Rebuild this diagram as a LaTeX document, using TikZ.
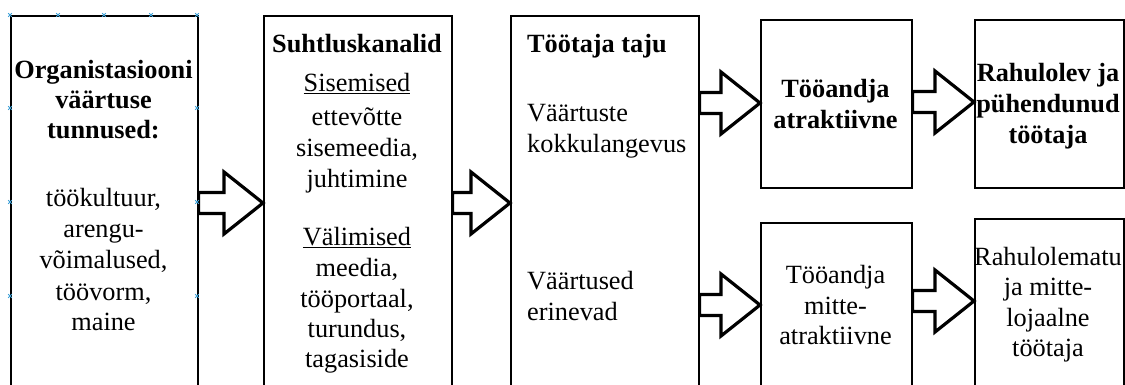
\documentclass[tikz,border=0pt]{standalone}
\usepackage{fontspec}
\setmainfont{Liberation Serif}
\usetikzlibrary{calc}
% stacked lines; the block's baseline is the baseline of its first line
\newcommand{\txtlines}[2][c]{\begin{tabular}[t]{@{}#1@{}}#2\end{tabular}}
% hollow block arrow from the east side of #1 to the west side of #2 at height #3
\newcommand{\fatarrow}[3]{%
  \draw[fatarrowline] let \p1=(#1.east |- 0,#3), \p2=(#2.west |- 0,#3) in
    (\x1,\y1-10.5pt) -- (\x2-39pt,\y1-10.5pt) -- (\x2-39pt,\y1-31pt) -- (\x2,\y1)
    -- (\x2-39pt,\y1+31pt) -- (\x2-39pt,\y1+10.5pt) -- (\x1,\y1+10.5pt) -- cycle;}
\begin{document}
\begin{tikzpicture}[x=1pt,y=-1pt,
  box/.style={draw=black, line width=1.6pt, inner sep=0pt, anchor=north west},
  txt/.style={inner sep=0pt, anchor=base, font=\fontsize{26.3}{31}\selectfont},
  ltxt/.style={txt, anchor=base west},
  fatarrowline/.style={draw=black, line width=3.2pt, line join=miter, fill=white},
  handle/.style={draw={rgb,255:red,60;green,160;blue,215}, line width=0.8pt}
]
\useasboundingbox (0,0) rectangle (1125,385);
\clip (0,0) rectangle (1125,385);

% frames
\node[box, minimum width=187, minimum height=420] (b1) at (10,15) {};
\node[box, minimum width=188, minimum height=420] (b2) at (263,15) {};
\node[box, minimum width=188, minimum height=420] (b3) at (510,15) {};
\node[box, minimum width=151, minimum height=168] (b4) at (760,19) {};
\node[box, minimum width=149, minimum height=168] (b5) at (974,19) {};
\node[box, minimum width=151, minimum height=200] (b6) at (760,222) {};
\node[box, minimum width=149, minimum height=200] (b7) at (974,218) {};

% block arrows
\fatarrow{b1}{b2}{203}
\fatarrow{b2}{b3}{203}
\fatarrow{b3}{b4}{103}
\fatarrow{b3}{b6}{305}
\fatarrow{b4}{b5}{102}
\fatarrow{b6}{b7}{301}

% texts
\node[txt, font=\fontsize{26.3}{30}\selectfont\bfseries] (t1a) at (103.5,79)
  {\txtlines{Organistasiooni\\väärtuse\\tunnused:}};
\node[txt] (t1b) at (103.5,207)
  {\txtlines{töökultuur,\\arengu-\\võimalused,\\töövorm,\\maine}};

\node[txt, font=\fontsize{26.3}{31}\selectfont\bfseries] (t2a) at (357,53) {Suhtluskanalid};
\node[txt] (t2b) at (357,92)
  {\txtlines{\underline{Sisemised}\\[3pt]ettevõtte\\sisemeedia,\\juhtimine}};
\node[txt, font=\fontsize{26.3}{30.5}\selectfont] (t2c) at (357,245)
  {\txtlines{\underline{Välimised}\\[1pt]meedia,\\tööportaal,\\turundus,\\tagasiside}};

\node[ltxt, font=\fontsize{26.3}{31}\selectfont\bfseries] (t3a) at (527,53) {Töötaja taju};
\node[ltxt] (t3b) at (527,122) {\txtlines[l]{Väärtuste\\kokkulangevus}};
\node[ltxt] (t3c) at (527,289) {\txtlines[l]{Väärtused\\erinevad}};

\node[txt, font=\fontsize{26.3}{31}\selectfont\bfseries] (t4) at (835.5,98)
  {\txtlines{Tööandja\\atraktiivne}};
\node[txt, font=\fontsize{26.3}{31}\selectfont\bfseries] (t5) at (1048,82)
  {\txtlines{Rahulolev ja\\pühendunud\\töötaja}};
\node[txt] (t6) at (835.5,283)
  {\txtlines{Tööandja\\mitte-\\atraktiivne}};
\node[txt, font=\fontsize{26.3}{30.5}\selectfont] (t7) at (1048,265)
  {\txtlines{Rahulolematu\\ja mitte-\\lojaalne\\töötaja}};

% selection handles on the first frame
\foreach \hx/\hy in {10/15,58/15,104/15,151/15,197/15,10/108,10/202,10/296,197/108,197/202,197/296}
  \draw[handle] (\hx-1.8,\hy-1.8) -- (\hx+1.8,\hy+1.8) (\hx-1.8,\hy+1.8) -- (\hx+1.8,\hy-1.8);
\end{tikzpicture}
\end{document}
